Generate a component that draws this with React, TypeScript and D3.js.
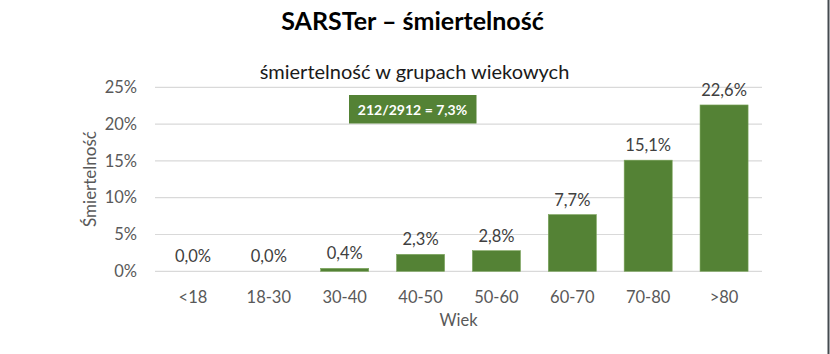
import React from "react";
import * as d3 from "d3";

const categories = ["<18", "18-30", "30-40", "40-50", "50-60", "60-70", "70-80", ">80"];
const values = [0.0, 0.0, 0.4, 2.3, 2.8, 7.7, 15.1, 22.6];
const yTicks = [0, 5, 10, 15, 20, 25];
const title = "SARSTer – śmiertelność";
const subtitle = "śmiertelność w grupach wiekowych";
const annotation = "212/2912 = 7,3%";
const yTitle = "Śmiertelność";
const xTitle = "Wiek";

const W = 830;
const H = 354;
const FONT = "Lato, 'Open Sans', sans-serif";

export default function App() {
  const x = d3.scaleBand<string>().domain(categories).range([155, 762]).paddingInner(0.367).paddingOuter(0.1835);
  const y = d3.scaleLinear().domain([0, 25]).range([271.3, 87.3]);
  const fmt = (v: number) => v.toFixed(1).replace(".", ",") + "%";
  return (
    <svg width={W} height={H} style={{ position: "absolute", left: 0, top: 0, background: "#fff" }} fontFamily={FONT}>
      <rect x={0} y={0} width={W} height={H} fill="#fff" />
      <text x={412.5} y={30} textAnchor="middle" fontSize={25} fontWeight={700} fill="#000">{title}</text>
      <text x={414.5} y={79} textAnchor="middle" fontSize={20} fill="#1a1a1a">{subtitle}</text>
      {yTicks.map((t) => (
        <g key={t}>
          <line x1={155} x2={762} y1={y(t)} y2={y(t)} stroke="#d9d9d9" strokeWidth={1.2} />
          <text x={137} y={y(t)} dy="0.35em" textAnchor="end" fontSize={16.5} fill="#595959">{t + "%"}</text>
        </g>
      ))}
      {categories.map((c, i) => (
        <g key={c}>
          <rect x={x(c)} y={y(values[i])} width={x.bandwidth()} height={y(0) - y(values[i])} fill="#548235" stroke="#7aa35a" strokeWidth={0.6} />
          <text x={(x(c) as number) + x.bandwidth() / 2} y={y(values[i]) - 9} textAnchor="middle" fontSize={16.5} fill="#404040">{fmt(values[i])}</text>
          <text x={(x(c) as number) + x.bandwidth() / 2} y={303} textAnchor="middle" fontSize={16.5} fill="#595959">{c}</text>
        </g>
      ))}
      <text x={458.5} y={326} textAnchor="middle" fontSize={16.5} fill="#595959">{xTitle}</text>
      <text transform="translate(96,179) rotate(-90)" textAnchor="middle" fontSize={17} fill="#595959">{yTitle}</text>
      <rect x={349} y={95} width={127.5} height={28.5} fill="#548235" />
      <text x={412.5} y={109.5} dy="0.36em" textAnchor="middle" fontSize={14} fontWeight={700} fill="#fff">{annotation}</text>
      <line x1={828.5} x2={828.5} y1={0} y2={H} stroke="#454b50" strokeWidth={2} />
    </svg>
  );
}
